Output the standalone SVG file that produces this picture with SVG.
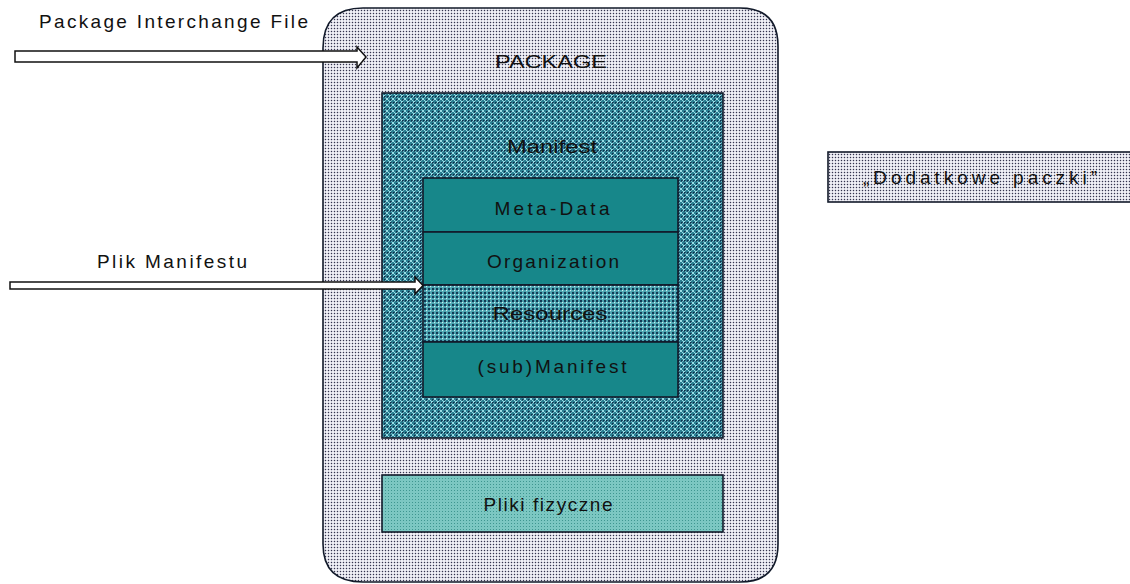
<svg xmlns="http://www.w3.org/2000/svg" width="1130" height="584" viewBox="0 0 1130 584">
  <style>
    text { font-family: "Liberation Sans", Arial, sans-serif; font-size: 19px; fill: #111; text-anchor: middle; }
    .lbl { text-anchor: start; }
    .box { stroke: #121a2a; stroke-width: 1.6; }
    .solid { fill: #17878a; }
    .arrow { fill: #ffffff; stroke: #111; stroke-width: 1.5; stroke-linejoin: miter; }
  </style>
  <defs>
    <!-- light dotted fill -->
    <pattern id="dots" width="3" height="3" patternUnits="userSpaceOnUse">
      <rect width="3" height="3" fill="#f8f8fd"/>
      <rect x="0.8" y="0.8" width="1.4" height="1.4" fill="#34344e"/>
    </pattern>
    <!-- teal lattice fill with light crosses -->
    <pattern id="lattice" width="6" height="6" patternUnits="userSpaceOnUse">
      <rect width="6" height="6" fill="#2a7f92"/>
      <path d="M0 0 L6 6 M6 0 L0 6" stroke="#a6e8ee" stroke-width="0.9"/>
      <rect x="0" y="0" width="1.5" height="1.5" fill="#0e2f4a"/>
      <rect x="3" y="0" width="1.5" height="1.5" fill="#0e2f4a"/>
      <rect x="0" y="3" width="1.5" height="1.5" fill="#0e2f4a"/>
    </pattern>
    <!-- lighter lattice for Resources -->
    <pattern id="lattice2" width="4" height="4" patternUnits="userSpaceOnUse">
      <rect width="4" height="4" fill="#4aa3b0"/>
      <rect x="0" y="0" width="2" height="2" fill="#123a55"/>
      <rect x="2" y="2" width="1.2" height="1.2" fill="#c9f1f4"/>
    </pattern>
    <!-- fine light-teal fill -->
    <pattern id="fine" width="3" height="3" patternUnits="userSpaceOnUse">
      <rect width="3" height="3" fill="#7cc7c2"/>
      <rect x="1" y="1" width="1" height="1" fill="#3e9690"/>
    </pattern>
  </defs>

  <g id="package">
    <path class="box" fill="url(#dots)" d="M363 8 H740 Q778 8 778 46 V544 Q778 582 740 582 H363 Q323 582 323 544 V48 Q323 8 363 8 Z"/>
    <text x="551" y="68" textLength="112" lengthAdjust="spacingAndGlyphs">PACKAGE</text>
  </g>

  <g id="manifest">
    <rect class="box" x="382" y="93" width="341" height="345" fill="url(#lattice)"/>
    <text x="552" y="153" textLength="90" lengthAdjust="spacingAndGlyphs">Manifest</text>
  </g>

  <g id="meta-data">
    <rect class="box solid" x="423" y="178" width="255" height="54"/>
    <text x="552" y="215" textLength="115" lengthAdjust="spacing">Meta-Data</text>
  </g>

  <g id="organization">
    <rect class="box solid" x="423" y="232" width="255" height="53"/>
    <text x="553" y="268" textLength="132" lengthAdjust="spacing">Organization</text>
  </g>

  <g id="resources">
    <rect class="box" x="423" y="285" width="255" height="57" fill="url(#lattice2)"/>
    <text x="550" y="320" textLength="115" lengthAdjust="spacingAndGlyphs">Resources</text>
  </g>

  <g id="sub-manifest">
    <rect class="box solid" x="423" y="342" width="255" height="55"/>
    <text x="552" y="373" textLength="149" lengthAdjust="spacing">(sub)Manifest</text>
  </g>

  <g id="pliki-fizyczne">
    <rect class="box" x="382" y="475" width="341" height="57" fill="url(#fine)"/>
    <text x="548" y="511" textLength="129" lengthAdjust="spacing">Pliki fizyczne</text>
  </g>

  <g id="dodatkowe-paczki">
    <rect class="box" x="828" y="152" width="310" height="50" fill="url(#dots)"/>
    <text x="980" y="184" textLength="234" lengthAdjust="spacing">„Dodatkowe paczki”</text>
  </g>

  <g id="labels">
    <text class="lbl" x="39" y="28" textLength="269" lengthAdjust="spacing">Package Interchange File</text>
    <text class="lbl" x="97" y="268" textLength="150" lengthAdjust="spacing">Plik Manifestu</text>
  </g>

  <g id="connectors">
    <polygon class="arrow" points="15,51 357,51 357,47 366,57 357,68 357,62 15,62"/>
    <polygon class="arrow" points="10,282 415,282 415,277 423,285.5 415,294 415,289 10,289"/>
  </g>
</svg>
